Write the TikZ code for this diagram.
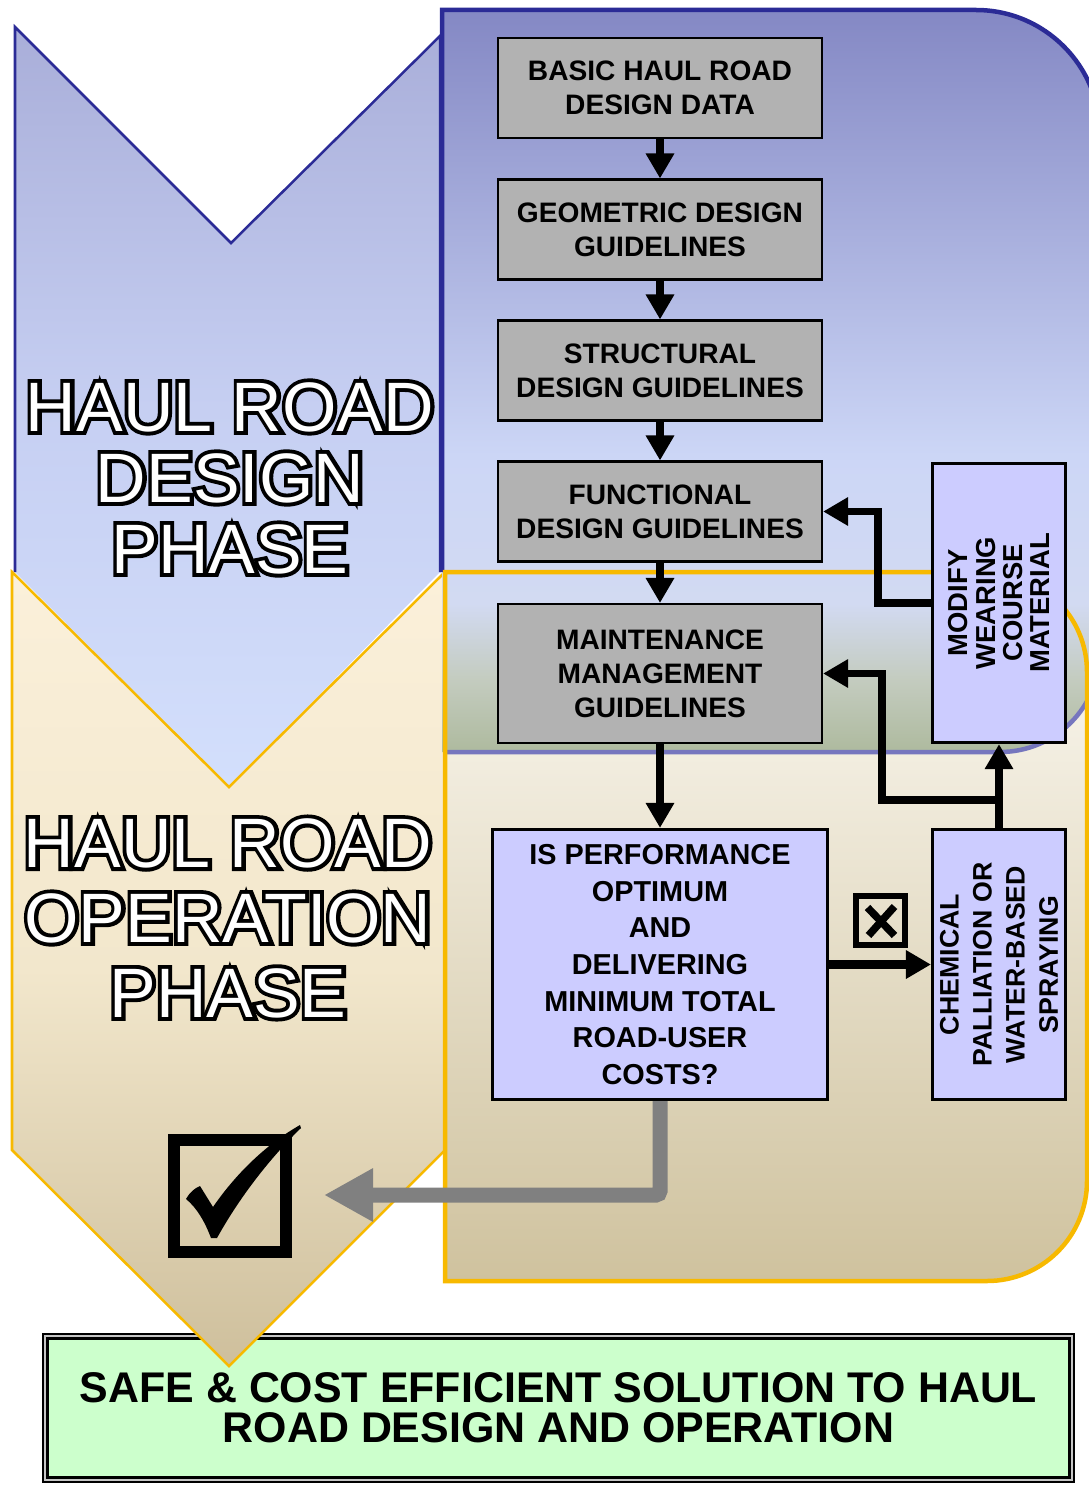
\documentclass[tikz,border=0pt]{standalone}
\usepackage{fontspec}
\setmainfont{Liberation Sans}
\newfontfamily\rimfont[FakeBold=11]{Liberation Sans}
\usepackage{graphicx}
\usetikzlibrary{arrows.meta,calc}

\definecolor{rimblue}{HTML}{2B2B96}
\definecolor{rimlight}{HTML}{7676BE}
\definecolor{rimgold}{HTML}{F7B900}
\definecolor{boxgray}{HTML}{B2B2B2}
\definecolor{boxlav}{HTML}{CCCCFF}
\definecolor{boxgreen}{HTML}{CCFFCC}
\definecolor{arrowgray}{HTML}{808080}
\definecolor{bpgreen}{HTML}{AEBA9E}
\definecolor{bpmist}{HTML}{C4CCC0}
\definecolor{bppale}{HTML}{D2DAF2}
\definecolor{bpsky}{HTML}{CCD6F6}
\definecolor{bptop}{HTML}{8488C4}
\definecolor{chevtop}{HTML}{A9AED9}
\definecolor{chevmid}{HTML}{C6CFF2}
\definecolor{chevbot}{HTML}{D3DFFC}
\definecolor{optop}{HTML}{FBF0DA}
\definecolor{opmid}{HTML}{F2E7CC}
\definecolor{opbot}{HTML}{CEBF9C}
\definecolor{yptop}{HTML}{FEFCF6}
\definecolor{ypbot}{HTML}{CFC29E}
\pgfdeclareverticalshading{bluepanel}{100bp}{color(0bp)=(bpgreen); color(25bp)=(bpgreen); color(30bp)=(bpmist); color(35bp)=(bppale); color(45bp)=(bpsky); color(75bp)=(bptop); color(100bp)=(bptop)}

\newcommand{\outl}[1]{\ooalign{\hfil{\color{black}\rimfont #1}\hfil\cr\hfil #1\hfil\cr}}

\begin{document}
\begin{tikzpicture}[x=0.01cm, y=-0.01cm,
  graybox/.style={draw, line width=0.025cm, fill=boxgray, minimum width=3.235cm, minimum height=0.995cm, inner sep=0pt, align=center, font=\bfseries\fontsize{8}{9.7}\selectfont},
  lavbox/.style={draw, line width=0.03cm, fill=boxlav, inner sep=0pt, align=center, font=\bfseries\fontsize{8.2}{10.4}\selectfont},
  phase/.style={text=white, align=center, font=\fontsize{19.9}{20.2}\selectfont},
  arr/.style={line width=0.085cm, -{Triangle[width=0.27cm,length=0.25cm]}},
  grayarr/.style={draw=arrowgray, line width=0.15cm, rounded corners=0.04cm, -{Triangle[width=0.5cm,length=0.49cm]}}]
  \useasboundingbox (0,0) rectangle (1089,1485);
  \clip (0,0) rectangle (1089,1485);

  \node[draw, line width=0.025cm, double=gray!45, double distance=0.02cm, fill=boxgreen,
        minimum width=10.26cm, minimum height=1.43cm, align=center,
        font=\bfseries\fontsize{12.2}{11.4}\selectfont] (goal) at (558.5,1408)
    {SAFE \& COST EFFICIENT SOLUTION TO HAUL\\ROAD DESIGN AND OPERATION};

  \path[top color=chevtop, bottom color=chevbot, middle color=chevmid]
    (15,27) -- (231,243) -- (440,36) -- (440,572) -- (229,787) -- (15,572) -- cycle;
  \draw[rimblue, line width=0.025cm] (15,572) -- (15,27) -- (231,243) -- (440,36) -- (440,572);
  \path[draw=rimgold, line width=0.025cm, top color=optop, bottom color=opbot, middle color=opmid]
    (12,572) -- (229,787) -- (445,572) -- (445,1150) -- (229,1366) -- (12,1150) -- cycle;

  \path[top color=yptop, bottom color=ypbot] (445,572) -- (987,572) .. controls (1042.2,572) and (1087,616.8) .. (1087,672)
    -- (1087,1181) .. controls (1087,1236.2) and (1042.2,1281) .. (987,1281) -- (445,1281) -- cycle;
  \path[shading=bluepanel] (442,752) -- (442,10) -- (976,10) .. controls (1044.5,10) and (1100,65.5) .. (1100,134)
    -- (1100,652) .. controls (1100,707.2) and (1055.2,752) .. (1000,752) -- cycle;
  \draw[rimblue, line width=0.045cm] (442,572) -- (442,10) -- (976,10) .. controls (1044.5,10) and (1100,65.5) .. (1100,134) -- (1100,652);
  \draw[rimlight, line width=0.045cm] (1100,652) .. controls (1100,707.2) and (1055.2,752) .. (1000,752) -- (443,752);
  \draw[rimgold, line width=0.045cm] (445,572) -- (987,572) .. controls (1042.2,572) and (1087,616.8) .. (1087,672)
    -- (1087,1181) .. controls (1087,1236.2) and (1042.2,1281) .. (987,1281) -- (445,1281) -- cycle;

  \node[phase] (designtxt) at (230,478) {\outl{HAUL ROAD}\\\outl{DESIGN}\\\outl{PHASE}};
  \node[phase, font=\fontsize{19.9}{21.3}\selectfont] (operatetxt) at (228,918) {\outl{HAUL ROAD}\\\outl{OPERATION}\\\outl{PHASE}};

  \node[graybox] (basic) at (660,88) {BASIC HAUL ROAD\\DESIGN DATA};
  \node[graybox] (geom) at (660,229.5) {GEOMETRIC DESIGN\\GUIDELINES};
  \node[graybox] (struct) at (660,370.5) {STRUCTURAL\\DESIGN GUIDELINES};
  \node[graybox] (func) at (660,511.5) {FUNCTIONAL\\DESIGN GUIDELINES};
  \node[graybox, minimum height=1.385cm] (maint) at (660,673.5) {MAINTENANCE\\MANAGEMENT\\GUIDELINES};
  \node[lavbox, minimum width=3.35cm, minimum height=2.7cm] (perf) at (660,964.5)
    {IS PERFORMANCE\\OPTIMUM\\AND\\DELIVERING\\MINIMUM TOTAL\\ROAD-USER\\COSTS?};
  \node[lavbox, minimum width=1.33cm, minimum height=2.79cm, font=\bfseries\fontsize{7.8}{7.7}\selectfont] (modify) at (999,603)
    {\rotatebox{90}{\parbox{2.6cm}{\centering MODIFY\\WEARING\\COURSE\\MATERIAL}}};
  \node[lavbox, minimum width=1.33cm, minimum height=2.7cm, font=\bfseries\fontsize{7.6}{9.4}\selectfont] (chem) at (999,964.5)
    {\rotatebox{90}{\parbox{2.6cm}{\centering CHEMICAL\\PALLIATION OR\\WATER-BASED\\SPRAYING}}};

  \draw[arr] (basic) -- (geom);
  \draw[arr] (geom) -- (struct);
  \draw[arr] (struct) -- (func);
  \draw[arr] (func) -- (maint);
  \draw[arr] (maint) -- (perf);
  \draw[arr] (perf) -- (chem);
  \draw[arr] (chem) -- (modify);
  \coordinate (split) at ($(chem.north)+(0,-28)$);
  \draw[arr, line width=0.075cm] (split) -| ($(maint.east)+(59,0)$) -- (maint.east);
  \draw[arr, line width=0.075cm] (modify.west) -| ($(func.east)+(55,0)$) -- (func.east);
  \coordinate (okend) at (324,1195);
  \draw[grayarr] (perf.south) |- (okend);

  \node[draw, line width=0.12cm, minimum size=1.12cm, inner sep=0pt] (tick) at (230,1196) {};
  \fill (186,1199) .. controls (190,1192) and (195,1188) .. (200,1186) -- (213,1207)
    .. controls (235,1175) and (265,1145) .. (300,1125) -- (301,1128)
    .. controls (268,1160) and (238,1200) .. (217,1238) -- (211,1238)
    .. controls (205,1222) and (197,1208) .. cycle;
  \node[draw, line width=0.055cm, minimum size=0.49cm, inner sep=0pt] (nobox) at (880.5,920.5) {};
  \draw[line width=0.075cm] ($(nobox.center)+(-13,-13)$) -- ($(nobox.center)+(14,15)$);
  \draw[line width=0.075cm] ($(nobox.center)+(14,-14)$) -- ($(nobox.center)+(-12,15)$);
\end{tikzpicture}
\end{document}
